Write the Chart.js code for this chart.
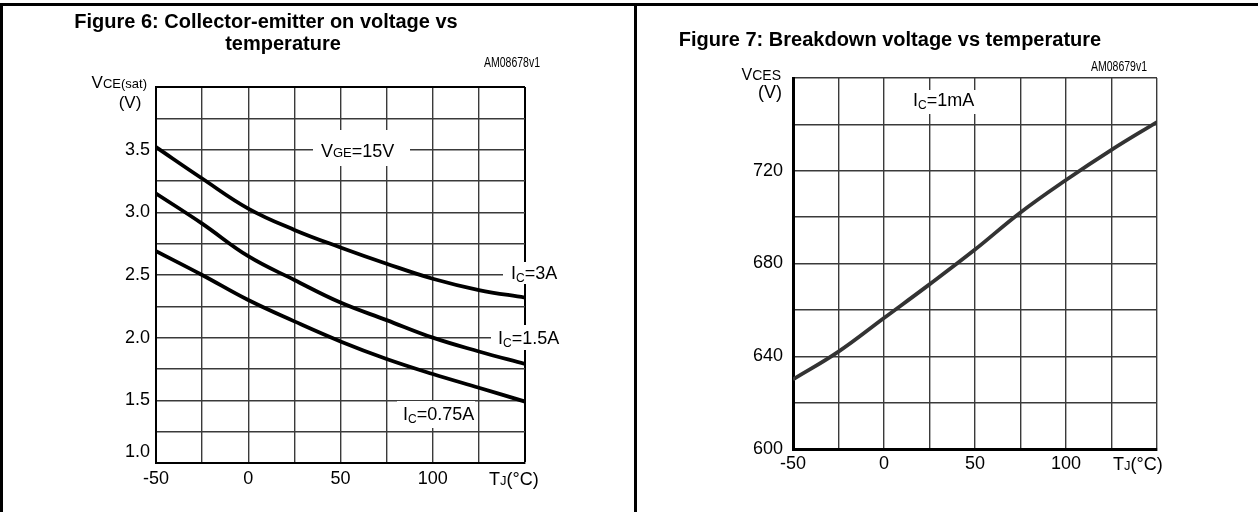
<!DOCTYPE html>
<html>
<head>
<meta charset="utf-8">
<script src="https://cdn.jsdelivr.net/npm/chart.js@4.4.1/dist/chart.umd.min.js"></script>
<style>
  html, body { margin: 0; padding: 0; background: #fff; }
  #wrap { position: relative; width: 1258px; height: 512px; overflow: hidden; }
  canvas { position: absolute; top: 0; }
  .ln { position: absolute; background: #000; }
</style>
</head>
<body>
<div id="wrap">
  <canvas id="fig6" width="634" height="512" style="left:0"></canvas>
  <canvas id="fig7" width="621" height="512" style="left:637px"></canvas>
  <div class="ln" style="left:0;top:3px;width:1258px;height:3px"></div>
  <div class="ln" style="left:0;top:3px;width:3px;height:509px"></div>
  <div class="ln" style="left:634px;top:3px;width:3px;height:509px"></div>
</div>
<script>
// temperature axis (°C)
const tempC = [-50, -25, 0, 25, 50, 75, 100, 125, 150];

// Figure 6: VCE(sat) (V) per collector current, VGE = 15V
const vce3A = [3.52, 3.27, 3.03, 2.86, 2.72, 2.59, 2.47, 2.38, 2.32];
const vce1p5A = [3.15, 2.91, 2.65, 2.46, 2.28, 2.14, 2.00, 1.89, 1.79];
const vce0p75A = [2.69, 2.50, 2.30, 2.13, 1.97, 1.83, 1.71, 1.60, 1.49];

// Figure 7: VCES (V) at IC = 1mA
const vces = [630, 642, 656.5, 671, 686, 702, 716, 729, 741];

// tick labels
const xTickLabels = [-50, 0, 50, 100];
const vceTickLabels = [1.0, 1.5, 2.0, 2.5, 3.0, 3.5];
const vcesTickLabels = [600, 640, 680, 720];

const FAM = '"Liberation Sans", Arial, sans-serif';

function pts(ys) {
  return tempC.map((t, i) => ({ x: t, y: ys[i] }));
}

// text with mixed sizes (subscripts etc.)
function drawRich(ctx, s) {
  ctx.save();
  ctx.fillStyle = '#000';
  ctx.textBaseline = 'alphabetic';
  ctx.textAlign = 'left';
  const fonts = s.parts.map(p => (p[3] ? 'bold ' : '') + p[1] + 'px ' + FAM);
  let w = 0;
  s.parts.forEach((p, i) => { ctx.font = fonts[i]; w += ctx.measureText(p[0]).width; });
  const sx = s.sx || 1;
  w *= sx;
  let x = s.x;
  if (s.align === 'center') x -= w / 2;
  else if (s.align === 'right') x -= w;
  ctx.translate(x, s.y);
  ctx.scale(sx, 1);
  let cx = 0;
  s.parts.forEach((p, i) => {
    ctx.font = fonts[i];
    ctx.fillText(p[0], cx, p[2] || 0);
    cx += ctx.measureText(p[0]).width;
  });
  ctx.restore();
}

function notes(boxes, texts) {
  return {
    id: 'notes',
    beforeDatasetsDraw(chart) {
      const ctx = chart.ctx;
      ctx.save();
      ctx.fillStyle = '#fff';
      boxes.forEach(b => ctx.fillRect(b[0], b[1], b[2], b[3]));
      ctx.restore();
    },
    afterDraw(chart) {
      texts.forEach(t => drawRich(chart.ctx, t));
    }
  };
}

function hasTick(list, v) {
  return list.some(l => Math.abs(l - v) < 1e-6);
}

// ---------- Figure 6 ----------
new Chart(document.getElementById('fig6'), {
  type: 'line',
  data: {
    datasets: [
      { label: 'IC=3A', data: pts(vce3A) },
      { label: 'IC=1.5A', data: pts(vce1p5A) },
      { label: 'IC=0.75A', data: pts(vce0p75A) }
    ]
  },
  options: {
    responsive: false,
    animation: false,
    layout: { padding: { left: 0, right: 109, top: 87, bottom: 0 } },
    plugins: { legend: { display: false }, tooltip: { enabled: false } },
    elements: {
      point: { radius: 0 },
      line: { borderColor: '#000', borderWidth: 3.8, tension: 0.4, fill: false }
    },
    scales: {
      x: {
        type: 'linear', min: -50, max: 150,
        afterFit: s => { s.height = 49; },
        ticks: {
          stepSize: 25, autoSkip: false, maxRotation: 0, padding: 5, color: '#000',
          font: { family: FAM, size: 18 },
          callback: v => hasTick(xTickLabels, v) ? String(v) : ''
        },
        grid: { drawTicks: false, color: ctx => ctx.tick && ctx.tick.value === 150 ? '#000' : '#3a3a3a',
                lineWidth: ctx => ctx.tick && ctx.tick.value === 150 ? 2 : 1.4 },
        border: { color: '#000', width: 2 }
      },
      y: {
        type: 'linear', min: 1, max: 4,
        afterFit: s => { s.width = 156; },
        ticks: {
          stepSize: 0.25, autoSkip: false, padding: 6, color: '#000',
          font: { family: FAM, size: 18 },
          callback: v => {
            if (!hasTick(vceTickLabels, v)) return '';
            const s = v.toFixed(1);
            return v === 1 ? [s, ''] : s;
          }
        },
        grid: { drawTicks: false, color: ctx => ctx.tick && ctx.tick.value === 4 ? '#000' : '#3a3a3a',
                lineWidth: ctx => ctx.tick && ctx.tick.value === 4 ? 2 : 1.4 },
        border: { color: '#000', width: 2 }
      }
    }
  },
  plugins: [notes(
    [[313, 130, 97, 36], [503, 262, 70, 22], [491, 325, 80, 25], [397, 401, 78, 27]],
    [
      { x: 266, y: 28, align: 'center', parts: [['Figure 6: Collector-emitter on voltage vs', 20, 0, true]] },
      { x: 283, y: 50, align: 'center', parts: [['temperature', 20, 0, true]] },
      { x: 540, y: 67, align: 'right', sx: 0.75, parts: [['AM08678v1', 14]] },
      { x: 147, y: 88, align: 'right', parts: [['V', 17], ['CE(sat)', 13]] },
      { x: 130, y: 108, align: 'center', parts: [['(V)', 17]] },
      { x: 321, y: 157, align: 'left', parts: [['V', 18], ['GE', 13], ['=15V', 18]] },
      { x: 511, y: 279, align: 'left', parts: [['I', 18], ['C', 12, 3], ['=3A', 18]] },
      { x: 498, y: 344, align: 'left', parts: [['I', 18], ['C', 12, 3], ['=1.5A', 18]] },
      { x: 403, y: 420, align: 'left', parts: [['I', 18], ['C', 12, 3], ['=0.75A', 18]] },
      { x: 489, y: 485, align: 'left', parts: [['T', 18], ['J', 13], ['(°C)', 18]] }
    ]
  )]
});

// ---------- Figure 7 ----------
new Chart(document.getElementById('fig7'), {
  type: 'line',
  data: {
    datasets: [{ label: 'IC=1mA', data: pts(vces) }]
  },
  options: {
    responsive: false,
    animation: false,
    layout: { padding: { left: 0, right: 101, top: 78, bottom: 0 } },
    plugins: { legend: { display: false }, tooltip: { enabled: false } },
    elements: {
      point: { radius: 0 },
      line: { borderColor: '#333', borderWidth: 3.8, tension: 0.4, fill: false }
    },
    scales: {
      x: {
        type: 'linear', min: -50, max: 150,
        afterFit: s => { s.height = 63; },
        ticks: {
          stepSize: 25, autoSkip: false, maxRotation: 0, padding: 4, color: '#000',
          font: { family: FAM, size: 18 },
          callback: v => hasTick(xTickLabels, v) ? String(v) : ''
        },
        grid: { drawTicks: false, color: '#3a3a3a', lineWidth: 1.4 },
        border: { color: '#000', width: 3 }
      },
      y: {
        type: 'linear', min: 600, max: 760,
        afterFit: s => { s.width = 156; },
        ticks: {
          stepSize: 20, autoSkip: false, padding: 10, color: '#000',
          font: { family: FAM, size: 18 },
          callback: v => hasTick(vcesTickLabels, v) ? String(v) : ''
        },
        grid: { drawTicks: false, color: '#3a3a3a', lineWidth: 1.4 },
        border: { color: '#000', width: 3 }
      }
    }
  },
  plugins: [notes(
    [[272, 90, 72, 24]],
    [
      { x: 253, y: 46, align: 'center', parts: [['Figure 7: Breakdown voltage vs temperature', 20, 0, true]] },
      { x: 510, y: 71, align: 'right', sx: 0.75, parts: [['AM08679v1', 14]] },
      { x: 144, y: 80, align: 'right', parts: [['V', 16], ['CES', 14]] },
      { x: 133, y: 98, align: 'center', parts: [['(V)', 18]] },
      { x: 276, y: 106, align: 'left', parts: [['I', 18], ['C', 12, 3], ['=1mA', 18]] },
      { x: 476, y: 470, align: 'left', parts: [['T', 18], ['J', 13], ['(°C)', 18]] }
    ]
  )]
});
</script>
</body>
</html>
